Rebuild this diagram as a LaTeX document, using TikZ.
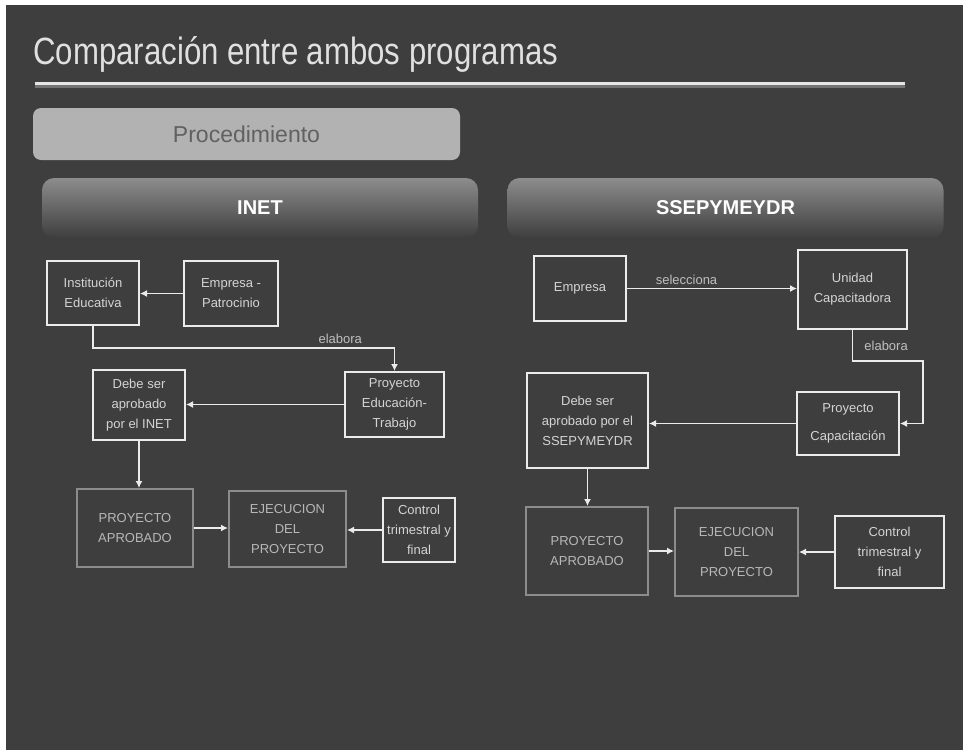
\documentclass[tikz,border=0pt]{standalone}
\usepackage{fontspec}
\setmainfont{Liberation Sans}
\newfontfamily\titlefont[FakeStretch=0.82]{Liberation Sans}
\usepackage{tikz}
\usetikzlibrary{arrows.meta,positioning,calc}

\definecolor{slidebg}{HTML}{3E3E3E}
\definecolor{boxtext}{HTML}{D4D4D4}

\begin{document}
\begin{tikzpicture}[x=0.5pt, y=-0.5pt,
    box/.style={draw=white!92!black, line width=1pt, inner sep=1pt, align=center,
      text=boxtext, font=\fontsize{6.5}{10}\selectfont},
    gbox/.style={box, draw=black!45, text=black!28},
    arr/.style={-{Latex[length=3.5pt,width=3.5pt]}, white!92!black, line width=0.9pt},
    lbl/.style={text=black!25, font=\fontsize{6.5}{8}\selectfont, inner sep=1.5pt},
    band/.style={rounded corners=6pt, top color=black!45, bottom color=slidebg,
      text=white, font=\fontsize{10}{12}\selectfont\bfseries,
      minimum width=218pt, minimum height=30pt, inner sep=0pt}]
    \useasboundingbox (0,0) rectangle (963,750);
    \fill[white] (0,0) rectangle (963,750);
    \fill[slidebg] (6,5) rectangle (963,750);

    \node[anchor=base west, inner sep=0pt, text=white!88!black, font=\titlefont\fontsize{19}{22}\selectfont]
      (title) at (33,64) {Comparación entre ambos programas};
    \draw[line width=1.5pt, black!55] (35,86) -- (905,86);
    \draw[line width=1.5pt, white!90!black] (35,83) -- (905,83);

    \node[fill=black!30, rounded corners=4pt, minimum width=213.5pt, minimum height=26pt,
      text=black!62, font=\fontsize{11.5}{13}\selectfont] (proc) at (246.5,134) {Procedimiento};

    \node[band] (inet) at (260,208) {INET};
    \node[band] (ssep) at (725.5,208) {SSEPYMEYDR};

    % INET
    \node[box, minimum width=46pt, minimum height=32pt] (inst) at (93,293) {Institución\\Educativa};
    \node[box, minimum width=47pt, minimum height=32.5pt] (emp1) at (231,293.5) {Empresa -\\Patrocinio};
    \node[box, minimum width=49.5pt, minimum height=32.5pt] (proy1) at (394.5,404.5) {Proyecto\\Educación-\\Trabajo};
    \node[box, minimum width=46pt, minimum height=35pt] (debe1) at (139,405) {Debe ser\\aprobado\\por el INET};
    \node[gbox, minimum width=58pt, minimum height=39pt] (aprob1) at (135,528) {PROYECTO\\APROBADO};
    \node[gbox, minimum width=58.5pt, minimum height=38pt] (ejec1) at (287.5,529) {EJECUCION\\DEL\\PROYECTO};
    \node[box, minimum width=36pt, minimum height=32pt] (ctrl1) at (419,530) {Control\\trimestral y\\final};
    \coordinate (k1) at (93,348);

    \draw[arr] (emp1.west) -- (emp1.west -| inst.east);
    \draw[arr] (inst.south) -- (k1) -| node[lbl, pos=0.41, above] {elabora} (proy1.north);
    \draw[arr] (proy1.west) -- (proy1.west -| debe1.east);
    \draw[arr] (debe1.south) -- (debe1.south |- aprob1.north);
    \draw[arr] (aprob1.east) -- (aprob1.east -| ejec1.west);
    \draw[arr] (ctrl1.west) -- (ctrl1.west -| ejec1.east);

    % SSEPYMEYDR
    \node[box, minimum width=46pt, minimum height=32.5pt] (emp2) at (580,288.5) {Empresa};
    \node[box, minimum width=54.5pt, minimum height=39.5pt] (unid) at (852.5,289.5) {Unidad\\Capacitadora};
    \node[box, minimum width=51pt, minimum height=31.5pt] (proy2) at (848,423.5) {Proyecto\\[4pt]Capacitación};
    \node[box, minimum width=60.5pt, minimum height=47.5pt] (debe2) at (587.5,420.5) {Debe ser\\aprobado por el\\SSEPYMEYDR};
    \node[gbox, minimum width=61pt, minimum height=44pt] (aprob2) at (587,551) {PROYECTO\\APROBADO};
    \node[gbox, minimum width=61.5pt, minimum height=44pt] (ejec2) at (736.5,552) {EJECUCION\\DEL\\PROYECTO};
    \node[box, minimum width=54.5pt, minimum height=36pt] (ctrl2) at (889.5,552) {Control\\trimestral y\\final};
    \coordinate (k2) at (923,361);

    \draw[arr] (emp2.east) -- node[lbl, pos=0.35, above] {selecciona} (emp2.east -| unid.west);
    \draw[arr] (unid.south) |- node[lbl, pos=0.25, right=4pt] {elabora} (k2) |- (proy2.east);
    \draw[arr] (proy2.west) -- (proy2.west -| debe2.east);
    \draw[arr] (debe2.south) -- (debe2.south |- aprob2.north);
    \draw[arr] (aprob2.east) -- (aprob2.east -| ejec2.west);
    \draw[arr] (ctrl2.west) -- (ctrl2.west -| ejec2.east);
  \end{tikzpicture}
\end{document}
